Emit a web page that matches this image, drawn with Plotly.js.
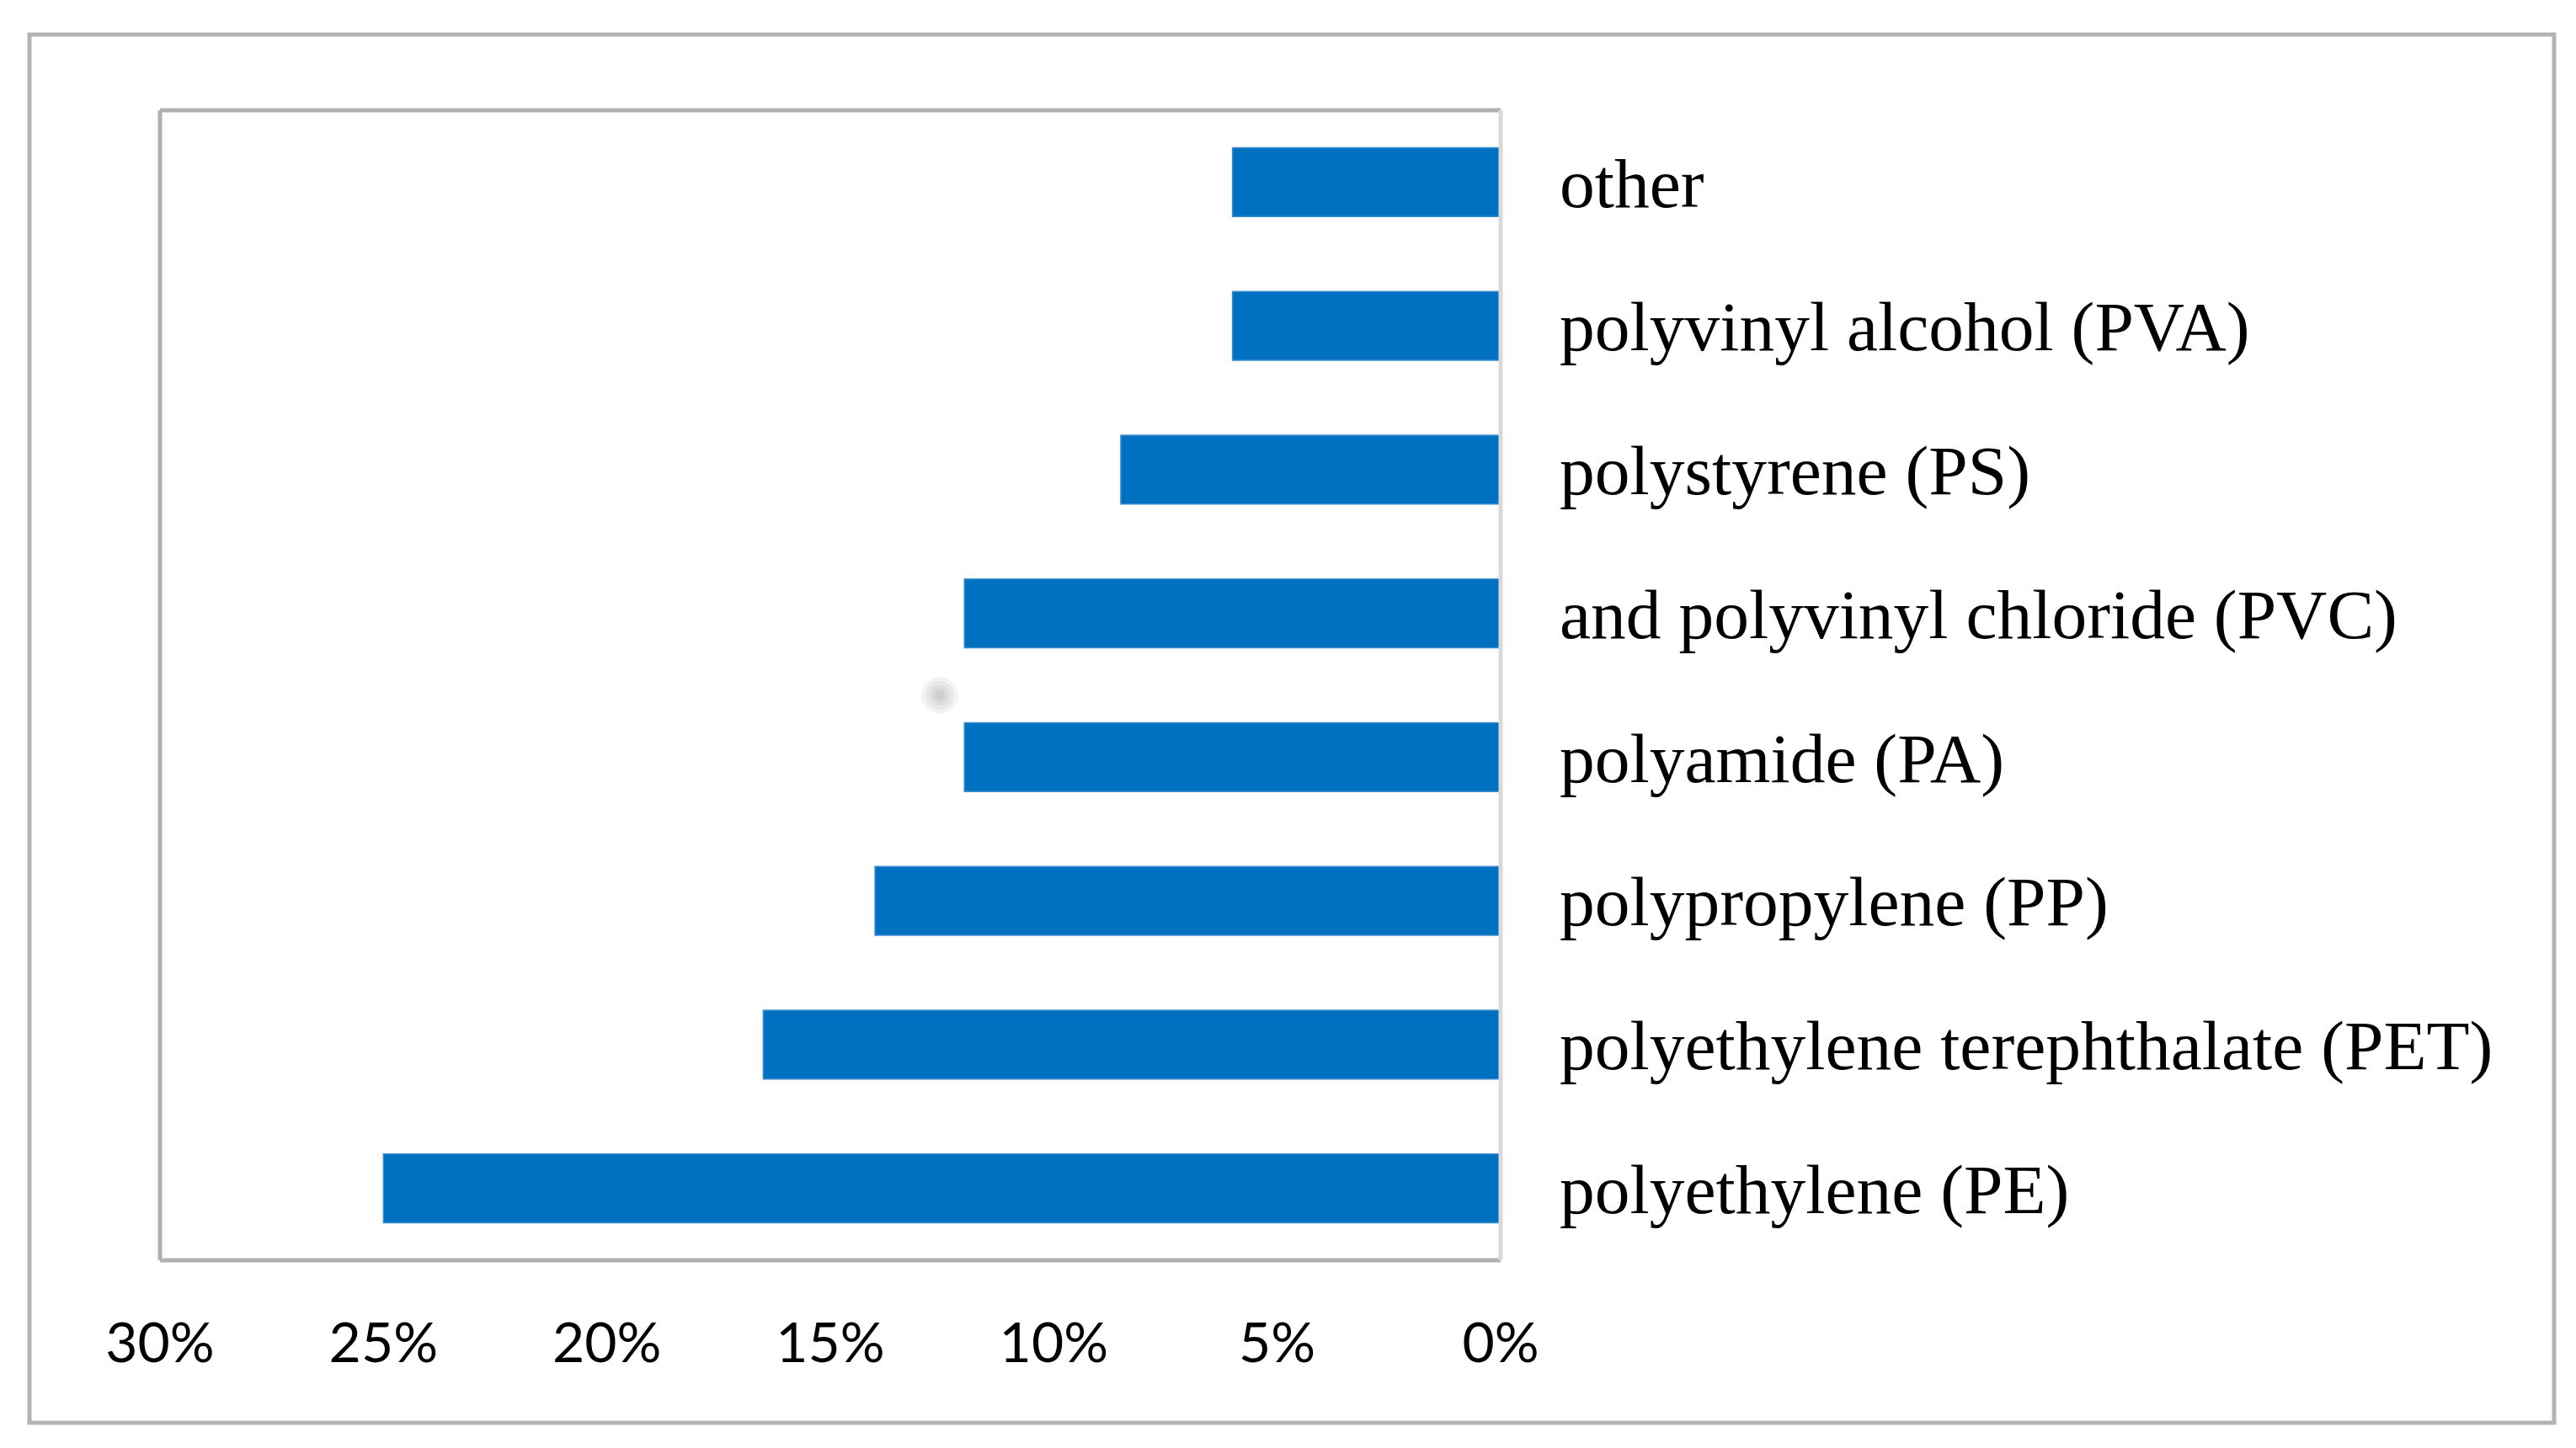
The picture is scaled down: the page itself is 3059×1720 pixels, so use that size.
<!DOCTYPE html>
<html>
<head>
<meta charset="utf-8">
<script src="https://cdn.plot.ly/plotly-3.0.1.min.js"></script>
<style>html,body{margin:0;padding:0;background:#fff;}#chart{width:3059px;height:1720px;}</style>
</head>
<body>
<div id="chart"></div>
<script>
// Data (bottom to top)
const categories = [
  "polyethylene (PE)",
  "polyethylene terephthalate (PET)",
  "polypropylene (PP)",
  "polyamide (PA)",
  "and polyvinyl chloride (PVC)",
  "polystyrene (PS)",
  "polyvinyl alcohol (PVA)",
  "other"
];
const shares = [25, 16.5, 14, 12, 12, 8.5, 6, 6];
const tickValues = [0, 5, 10, 15, 20, 25, 30];
const tickLabels = ["0%", "5%", "10%", "15%", "20%", "25%", "30%"];

const W = 3059, H = 1720;
const L = 190, R = 1782, T = 131, B = 1497;
const pw = R - L, ph = B - T;
const px = v => (v - L) / pw;
const py = v => (B - v) / ph;

const trace = {
  type: 'bar',
  orientation: 'h',
  x: shares,
  y: categories,
  marker: {color: '#0070C0', line: {color: '#3d8fd0', width: 1.5}},
  hoverinfo: 'skip'
};

// soft blurred dot artifact (concentric faint circles)
const dotShapes = [];
const cx = 1116, cy = 826;
[22, 17, 12, 8, 5].forEach((r, i) => {
  dotShapes.push({type: 'circle', xref: 'paper', yref: 'paper',
    x0: px(cx - r), x1: px(cx + r), y0: py(cy + r), y1: py(cy - r),
    line: {width: 0}, fillcolor: 'rgba(160,160,160,0.12)', layer: 'below'});
});

const layout = {
  width: W, height: H,
  margin: {l: L, r: W - R, t: T, b: H - B, pad: 0},
  paper_bgcolor: '#ffffff',
  plot_bgcolor: '#ffffff',
  showlegend: false,
  bargap: 0.52,
  xaxis: {
    range: [30, 0],
    tickvals: tickValues,
    ticktext: tickLabels,
    showgrid: false,
    zeroline: false,
    showline: false,
    ticks: '',
    ticklabelstandoff: 54,
    tickfont: {family: 'Lato, "Open Sans", sans-serif', size: 66, color: '#000000'}
  },
  yaxis: {
    type: 'category',
    side: 'right',
    range: [-0.5, 7.5],
    showgrid: false,
    zeroline: false,
    showline: false,
    ticks: '',
    ticklabelstandoff: 69,
    tickfont: {family: '"Liberation Serif", "Times New Roman", serif', size: 83.5, color: '#000000'}
  },
  shapes: [
    // outer frame
    {type: 'rect', xref: 'paper', yref: 'paper',
     x0: px(35), x1: px(3033), y0: py(1690), y1: py(41),
     line: {color: '#b3b3b3', width: 5}, fillcolor: 'rgba(0,0,0,0)', layer: 'below'},
    // plot area frame: left, top, bottom
    {type: 'line', xref: 'paper', yref: 'paper', x0: 0, x1: 0, y0: 0, y1: 1,
     line: {color: '#b0b0b0', width: 5}},
    {type: 'line', xref: 'paper', yref: 'paper', x0: 0, x1: 1, y0: 1, y1: 1,
     line: {color: '#b0b0b0', width: 5}},
    {type: 'line', xref: 'paper', yref: 'paper', x0: 0, x1: 1, y0: 0, y1: 0,
     line: {color: '#b0b0b0', width: 5}},
    // 0% axis line
    {type: 'line', xref: 'paper', yref: 'paper', x0: 1, x1: 1, y0: 0, y1: 1,
     line: {color: '#d9d9d9', width: 5}}
  ].concat(dotShapes)
};

Plotly.newPlot('chart', [trace], layout, {displayModeBar: false, staticPlot: true});
</script>
</body>
</html>
